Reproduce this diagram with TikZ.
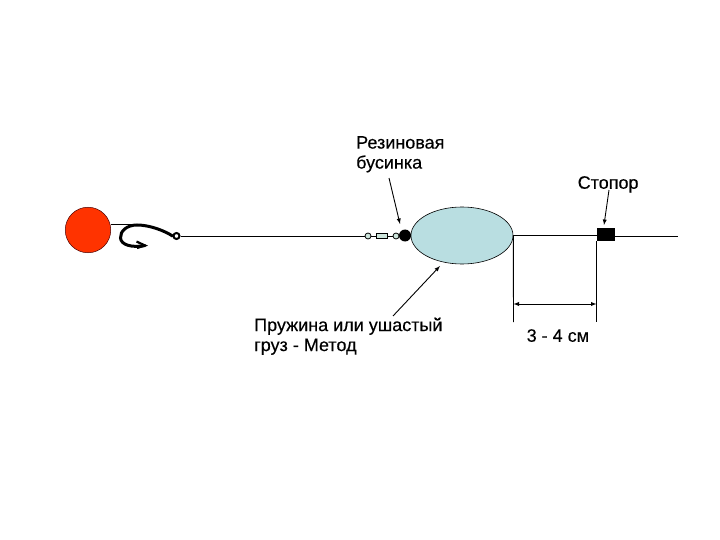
\documentclass[tikz,border=0pt]{standalone}
\usepackage{fontspec}
\setmainfont{Liberation Sans}
\newfontfamily\lblfont{Liberation Sans}[FakeBold=0.3]
\usepackage{tikz}
\usetikzlibrary{arrows,shapes.geometric}
\definecolor{sinker}{HTML}{B9DEE1}
\definecolor{floatred}{HTML}{FF3300}
\definecolor{swivel}{HTML}{CDE5DC}
\tikzset{
  lbl/.style={align=left,anchor=north west,inner sep=0pt,font=\lblfont\fontsize{18}{20}\selectfont,text=black},
  bead/.style={circle,draw=black,fill=swivel,inner sep=0pt,minimum size=6pt,line width=.8pt},
  ln/.style={line width=.9pt,black},
  tip/.style={line width=.9pt,black,-latex}
}
\begin{document}
\begin{tikzpicture}[x=1pt,y=-1pt]
  \useasboundingbox (0,0) rectangle (720,540);
  % float and hook
  \node (ball) at (88,230) [circle,draw=black!70!red,fill=floatred,inner sep=0pt,minimum size=45.5pt,line width=.5pt] {};
  \coordinate (hooktop) at (137,224.5);
  \node (eye) at (176.5,236) [circle,draw=black,inner sep=0pt,minimum size=6pt,line width=2pt] {};
  \draw[ln] (ball.east |- hooktop) -- (hooktop);
  \draw[line width=3pt,black,line cap=round] (eye.west) .. controls (165,231) and (150,225) .. (137,225)
    .. controls (127,225) and (120,231) .. (120.5,238) .. controls (121,245) and (132,248) .. (145,245.5);
  \draw[line width=2.2pt,black] (136.5,241.5) -- (145,245.5) -- (137,248);
  % swivel and bead
  \node (ring1) at (368,236) [bead] {};
  \node (sleeve) at (382,236) [draw=black,fill=swivel,inner sep=0pt,minimum width=11pt,minimum height=5pt,line width=.8pt] {};
  \node (ring2) at (396,236) [bead] {};
  \node (stopbead) at (405,235.5) [circle,fill=black,inner sep=0pt,minimum size=12pt] {};
  \node (lead) at (462,235.5) [ellipse,draw=black,fill=sinker,inner sep=0pt,minimum width=102pt,minimum height=57pt,line width=.6pt] {};
  \node (stopper) at (606,234.5) [rectangle,fill=black,inner sep=0pt,minimum width=18pt,minimum height=13pt] {};
  \coordinate (lineend) at (678,236);
  \path[ln]
  (eye.east) edge (ring1.west)
  (ring1) edge (sleeve)
  (sleeve) edge (ring2)
  (lead.east) edge (stopper.west |- lead.east)
  (stopper.east |- lineend) edge (lineend)
  ;
  % dimension
  \coordinate (dimA) at (513.5,322);
  \coordinate (dimB) at (596.5,322);
  \coordinate (dimAm) at (513.5,304);
  \coordinate (dimBm) at (596.5,304);
  \draw[ln] (lead.east) -- (dimA);
  \draw[ln] (dimB |- stopper.south) -- (dimB);
  \draw[line width=.9pt,black,latex-latex] (dimAm) -- (dimBm);
  % labels
  \node (rubber) at (356,136) [lbl] {Резиновая\\бусинка};
  \node (stoplbl) at (577.5,176) [lbl] {Стопор};
  \node (springlbl) at (254,317.5) [lbl] {Пружина или ушастый\\груз - Метод};
  \node (sizelbl) at (526.5,329) [lbl] {3 - 4 см};
  \coordinate (rubberout) at (389,178);
  \coordinate (stopout) at (609,190);
  \coordinate (springout) at (393,316);
  \coordinate (leadin) at (440,266);
  \path[tip]
  (rubberout) edge (400,224)
  (stopout) edge (604,225)
  (springout) edge (leadin)
  ;
\end{tikzpicture}
\end{document}
